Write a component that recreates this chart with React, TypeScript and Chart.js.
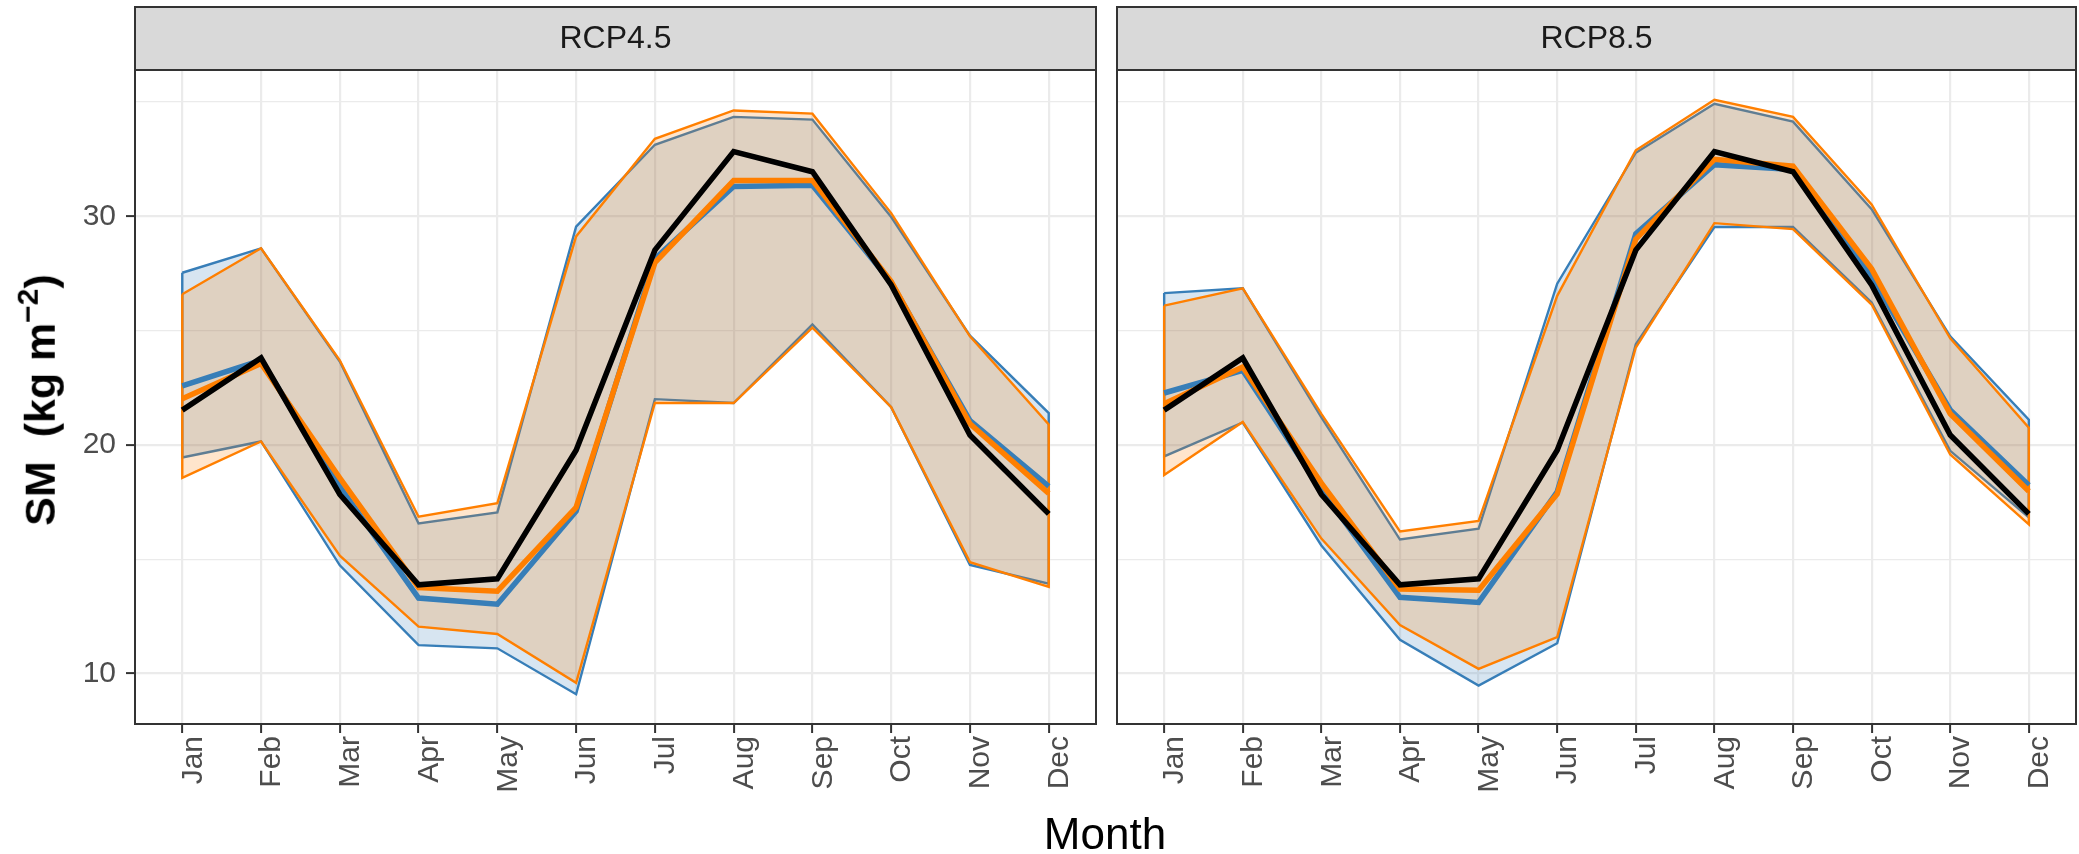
import React, { useEffect, useRef } from "react";
import { Chart, registerables } from "chart.js";

Chart.register(...registerables);

const FONT = "'Liberation Sans', Arial, Helvetica, sans-serif";

// ---------- data ----------
const months = ["Jan", "Feb", "Mar", "Apr", "May", "Jun", "Jul", "Aug", "Sep", "Oct", "Nov", "Dec"];
const panelTitles = ["RCP4.5", "RCP8.5"];
const yMajorTicks = [10, 20, 30];
const yMinorTicks = [15, 25, 35];

// observed (black line, same in both panels)
const observed = [21.52, 23.8, 17.83, 13.88, 14.14, 19.77, 28.52, 32.83, 31.95, 27.0, 20.43, 16.98];

// RCP4.5
const rcp45BlueMean = [22.58, 23.7, 18.18, 13.3, 13.03, 17.1, 28.14, 31.3, 31.36, 27.1, 21.06, 18.19];
const rcp45BlueMax = [27.53, 28.6, 23.65, 16.56, 17.05, 29.55, 33.13, 34.35, 34.23, 29.97, 24.78, 21.39];
const rcp45BlueMin = [19.45, 20.15, 14.73, 11.24, 11.1, 9.09, 22.0, 21.83, 25.27, 21.65, 14.75, 13.93];
const rcp45OrangeMean = [22.02, 23.56, 18.55, 13.76, 13.6, 17.27, 27.97, 31.57, 31.57, 27.15, 20.92, 17.88];
const rcp45OrangeMax = [26.59, 28.6, 23.7, 16.86, 17.45, 29.12, 33.39, 34.63, 34.49, 30.14, 24.75, 20.89];
const rcp45OrangeMin = [18.56, 20.15, 15.15, 12.05, 11.73, 9.59, 21.84, 21.83, 25.13, 21.65, 14.87, 13.79];

// RCP8.5
const rcp85BlueMean = [22.27, 23.26, 18.03, 13.33, 13.11, 17.95, 29.23, 32.26, 32.05, 27.36, 21.53, 18.23];
const rcp85BlueMax = [26.64, 26.85, 21.2, 15.86, 16.33, 27.05, 32.78, 34.92, 34.14, 30.31, 24.75, 21.1];
const rcp85BlueMin = [19.5, 20.98, 15.6, 11.47, 9.47, 11.32, 24.4, 29.53, 29.53, 26.23, 19.74, 16.83];
const rcp85OrangeMean = [21.8, 23.41, 18.33, 13.7, 13.64, 17.85, 29.0, 32.49, 32.19, 27.7, 21.36, 17.97];
const rcp85OrangeMax = [26.09, 26.85, 21.36, 16.21, 16.67, 26.52, 32.89, 35.1, 34.35, 30.52, 24.66, 20.75];
const rcp85OrangeMin = [18.68, 21.0, 15.9, 12.12, 10.2, 11.59, 24.26, 29.7, 29.44, 26.14, 19.58, 16.52];

// ---------- styling ----------
const BLUE = "#377EB8";
const ORANGE = "#FF7F00";
const BLUE_FILL = "rgba(55,126,184,0.2)";
const ORANGE_FILL = "rgba(255,127,0,0.2)";
const GRID = "#EBEBEB";
const FRAME = "#333333";
const TICK_FONT = 30;
const STRIP_FONT = 32;

function ribbon(upper: number[], lower: number[]) {
  const pts = upper.map((y, i) => ({ x: i, y }));
  for (let i = lower.length - 1; i >= 0; i--) pts.push({ x: i, y: lower[i] });
  pts.push({ x: 0, y: upper[0] });
  return pts;
}
function series(vals: number[]) {
  return vals.map((y, i) => ({ x: i, y }));
}

const decorPlugin = (title: string) => ({
  id: "panelDecor",
  afterDatasetsDraw(chart: any) {
    const { ctx, chartArea: a } = chart;
    ctx.save();
    ctx.strokeStyle = FRAME;
    ctx.lineWidth = 2;
    ctx.strokeRect(a.left, a.top, a.right - a.left, a.bottom - a.top);
    const stripTop = 7;
    ctx.fillStyle = "#D9D9D9";
    ctx.fillRect(a.left, stripTop, a.right - a.left, a.top - stripTop);
    ctx.strokeRect(a.left, stripTop, a.right - a.left, a.top - stripTop);
    ctx.fillStyle = "#1A1A1A";
    ctx.font = `${STRIP_FONT}px ${FONT}`;
    ctx.textAlign = "center";
    ctx.textBaseline = "middle";
    ctx.fillText(title, (a.left + a.right) / 2, (stripTop + a.top) / 2 + 1);
    ctx.restore();
  },
});

type PanelProps = {
  title: string;
  left: number;
  width: number;
  showY: boolean;
  yWidth: number;
  padRight: number;
  blueMin: number[];
  blueMax: number[];
  blueMean: number[];
  orangeMin: number[];
  orangeMax: number[];
  orangeMean: number[];
};

function Panel(p: PanelProps) {
  const ref = useRef<HTMLCanvasElement>(null);
  useEffect(() => {
    const yAll = [...yMinorTicks, ...yMajorTicks].sort((a, b) => a - b);
    const chart = new Chart(ref.current as HTMLCanvasElement, {
      type: "line",
      data: {
        datasets: [
          { data: series(observed), borderColor: "#000000", borderWidth: 5.5, fill: false, order: 0 },
          { data: series(p.orangeMean), borderColor: ORANGE, borderWidth: 5.5, fill: false, order: 1 },
          { data: series(p.blueMean), borderColor: BLUE, borderWidth: 5.5, fill: false, order: 2 },
          {
            data: ribbon(p.orangeMax, p.orangeMin),
            borderColor: ORANGE,
            borderWidth: 2.4,
            backgroundColor: ORANGE_FILL,
            fill: "shape",
            order: 3,
          },
          {
            data: ribbon(p.blueMax, p.blueMin),
            borderColor: BLUE,
            borderWidth: 2.4,
            backgroundColor: BLUE_FILL,
            fill: "shape",
            order: 4,
          },
        ] as any,
      },
      options: {
        animation: false,
        responsive: false,
        events: [],
        layout: { padding: { left: 0, right: p.padRight, top: 70, bottom: 0 } },
        plugins: { legend: { display: false }, tooltip: { enabled: false } },
        elements: { point: { radius: 0 }, line: { tension: 0, borderJoinStyle: "miter" } },
        scales: {
          x: {
            type: "linear",
            min: -0.6,
            max: 11.6,
            afterBuildTicks: (s: any) => {
              s.ticks = months.map((_, i) => ({ value: i }));
            },
            afterFit: (s: any) => {
              s.height = 130;
              s.paddingLeft = 0;
              s.paddingRight = 0;
            },
            border: { display: false },
            grid: {
              color: GRID,
              lineWidth: 2.2,
              drawTicks: true,
              tickLength: 9,
              tickColor: FRAME,
              tickWidth: 2,
            },
            ticks: {
              autoSkip: false,
              minRotation: 90,
              maxRotation: 90,
              padding: 3,
              labelOffset: 11,
              color: "#4D4D4D",
              font: { family: FONT, size: TICK_FONT },
              callback: (v: any) => months[Math.round(Number(v))] ?? "",
            },
          },
          y: {
            type: "linear",
            min: 7.79,
            max: 36.4,
            afterBuildTicks: (s: any) => {
              s.ticks = yAll.map((v) => ({ value: v }));
            },
            afterFit: (s: any) => {
              s.width = p.yWidth;
              s.paddingTop = 0;
              s.paddingBottom = 0;
            },
            border: { display: false },
            grid: {
              color: GRID,
              lineWidth: (c: any) => (c.tick && yMajorTicks.includes(c.tick.value) ? 2.2 : 1.2),
              drawTicks: p.showY,
              tickLength: 9,
              tickWidth: 2,
              tickColor: (c: any) => (c.tick && yMajorTicks.includes(c.tick.value) ? FRAME : "rgba(0,0,0,0)"),
            },
            ticks: {
              display: p.showY,
              padding: 10,
              color: "#4D4D4D",
              font: { family: FONT, size: TICK_FONT },
              callback: (v: any) => (yMajorTicks.includes(Number(v)) ? String(v) : ""),
            },
          },
        },
      } as any,
      plugins: [decorPlugin(p.title)],
    });
    return () => chart.destroy();
  }, []);
  return (
    <canvas
      ref={ref}
      width={p.width}
      height={854}
      style={{ position: "absolute", left: p.left, top: 0, width: p.width, height: 854 }}
    />
  );
}

export default function App() {
  return (
    <div
      style={{
        position: "fixed",
        left: 0,
        top: 0,
        width: 2079,
        height: 854,
        background: "#FFFFFF",
        overflow: "hidden",
        fontFamily: FONT,
      }}
    >
      <Panel
        title={panelTitles[0]}
        left={0}
        width={1100}
        showY={true}
        yWidth={135}
        padRight={4}
        blueMin={rcp45BlueMin}
        blueMax={rcp45BlueMax}
        blueMean={rcp45BlueMean}
        orangeMin={rcp45OrangeMin}
        orangeMax={rcp45OrangeMax}
        orangeMean={rcp45OrangeMean}
      />
      <Panel
        title={panelTitles[1]}
        left={1100}
        width={979}
        showY={false}
        yWidth={17}
        padRight={3}
        blueMin={rcp85BlueMin}
        blueMax={rcp85BlueMax}
        blueMean={rcp85BlueMean}
        orangeMin={rcp85OrangeMin}
        orangeMax={rcp85OrangeMax}
        orangeMean={rcp85OrangeMean}
      />
      <div
        style={{
          position: "absolute",
          left: 37,
          top: 400,
          transform: "translate(-50%, -50%) rotate(-90deg)",
          whiteSpace: "pre",
          fontWeight: "bold",
          fontSize: 43,
          color: "#000000",
          lineHeight: 1,
        }}
      >
        {"SM  (kg m"}
        <sup style={{ fontSize: 30, verticalAlign: "0.55em" }}>−2</sup>
        {")"}
      </div>
      <div
        style={{
          position: "absolute",
          left: 1105,
          top: 834,
          transform: "translate(-50%, -50%)",
          whiteSpace: "nowrap",
          fontSize: 44,
          color: "#000000",
          lineHeight: 1,
        }}
      >
        Month
      </div>
    </div>
  );
}
